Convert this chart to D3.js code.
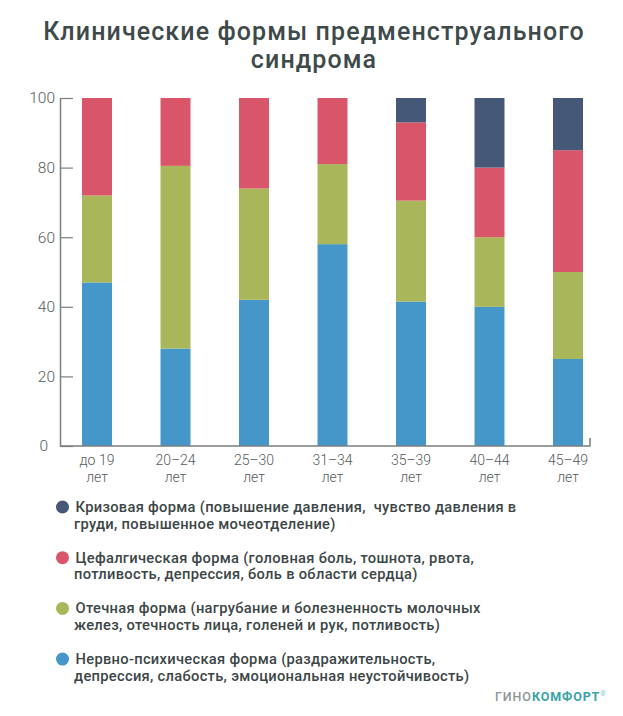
<!DOCTYPE html>
<html>
<head>
<meta charset="utf-8">
<script src="https://cdn.jsdelivr.net/npm/d3@7"></script>
<style>
  html, body { margin: 0; padding: 0; background: #fff; }
  svg { display: block; }
</style>
</head>
<body>
<svg id="chart" width="623" height="716"></svg>
<script>
// ---------- data ----------
const title = ["Клинические формы предменструального", "синдрома"];
const categories = ["до 19", "20–24", "25–30", "31–34", "35–39", "40–44", "45–49"];
const categorySuffix = "лет";
const yTicks = [0, 20, 40, 60, 80, 100];

const nervous   = [47, 28, 42, 58, 41.5, 40, 25];   // Нервно-психическая
const edema     = [25, 52.5, 32, 23, 29, 20, 25];   // Отечная
const cephalgic = [28, 19.5, 26, 19, 22.5, 20, 35]; // Цефалгическая
const crisis    = [0, 0, 0, 0, 7, 20, 15];          // Кризовая

const seriesKeys = ["nervous", "edema", "cephalgic", "crisis"];
const colors = { nervous: "#4597c9", edema: "#a9b659", cephalgic: "#d9566a", crisis: "#465878" };

const legendKeys = ["crisis", "cephalgic", "edema", "nervous"];
const legendLabels = [
  ["Кризовая форма (повышение давления,  чувство давления в", "груди, повышенное мочеотделение)"],
  ["Цефалгическая форма (головная боль, тошнота, рвота,", "потливость, депрессия, боль в области сердца)"],
  ["Отечная форма (нагрубание и болезненность молочных", "желез, отечность лица, голеней и рук, потливость)"],
  ["Нервно-психическая форма (раздражительность,", "депрессия, слабость, эмоциональная неустойчивость)"]
];

// ---------- build ----------
const table = categories.map((c, i) => ({
  cat: c, nervous: nervous[i], edema: edema[i], cephalgic: cephalgic[i], crisis: crisis[i]
}));
const stacked = d3.stack().keys(seriesKeys)(table);

const svg = d3.select("#chart");
const axisColor = "#7a7f80";
const textColor = "#555b5b";

const x = d3.scaleBand().domain(categories).range([57.75, 607.25]).paddingInner(0.618).paddingOuter(0.309);
const y = d3.scaleLinear().domain([0, 100]).range([446, 98]);

// title
svg.append("g").selectAll("text").data(title).join("text")
  .attr("x", 314).attr("y", (d, i) => 40 + i * 28)
  .attr("text-anchor", "middle")
  .attr("font-family", "Roboto, 'Noto Sans', sans-serif")
  .attr("font-weight", 500)
  .attr("font-size", 25)
  .attr("letter-spacing", 1.1)
  .attr("fill", "#3e4a4a")
  .text(d => d);

// bars
svg.append("g").selectAll("g").data(stacked).join("g")
  .attr("fill", d => colors[d.key])
  .selectAll("rect").data(d => d).join("rect")
  .attr("x", d => x(d.data.cat))
  .attr("width", x.bandwidth())
  .attr("y", d => y(d[1]))
  .attr("height", d => y(d[0]) - y(d[1]));

// y axis
const yAxis = svg.append("g").attr("transform", "translate(60,0)")
  .call(d3.axisLeft(y).tickValues(yTicks).tickSize(-13).tickSizeOuter(0).tickPadding(5));
yAxis.select(".domain").attr("stroke", axisColor).attr("stroke-width", 1.5);
yAxis.selectAll(".tick line").attr("stroke", axisColor).attr("stroke-width", 1.2);
yAxis.selectAll(".tick text")
  .attr("font-family", "Roboto, sans-serif").attr("font-weight", 300)
  .attr("font-size", 15.5).attr("fill", textColor)
  .attr("dx", d => d === 0 ? -7 : 0);

// x axis
const xAxisG = svg.append("g").attr("transform", "translate(0,446)");
xAxisG.append("path")
  .attr("d", `M60,0H590V-8`)
  .attr("fill", "none").attr("stroke", axisColor).attr("stroke-width", 1.5);
const xAxis = svg.append("g").attr("transform", "translate(0,446)")
  .call(d3.axisBottom(x).tickSize(0).tickPadding(0));
xAxis.select(".domain").remove();
xAxis.selectAll(".tick text").each(function(d) {
  const t = d3.select(this);
  t.text(null).attr("y", 0).attr("dy", null)
    .attr("font-family", "Roboto, sans-serif").attr("font-weight", 300)
    .attr("font-size", 14).attr("fill", textColor);
  t.append("tspan").attr("x", 0).attr("y", 18.5).text(d);
  t.append("tspan").attr("x", 0).attr("y", 35.5).text(categorySuffix);
});

// legend
const leg = svg.append("g").selectAll("g").data(legendKeys).join("g")
  .attr("transform", (d, i) => `translate(0,${507 + i * 50.7})`);
leg.append("circle").attr("cx", 62.5).attr("cy", 0).attr("r", 6.5).attr("fill", d => colors[d]);
leg.append("text")
  .attr("font-family", "Roboto, sans-serif").attr("font-weight", 500)
  .attr("font-size", 14.7).attr("fill", "#3c4646")
  .attr("letter-spacing", 0.3)
  .style("white-space", "pre")
  .selectAll("tspan").data((d, i) => legendLabels[i]).join("tspan")
  .attr("x", (d, j) => j === 0 ? 75.5 : 74)
  .attr("y", (d, j) => 5 + j * 16.5)
  .text(d => d);

// logo
const logo = svg.append("text").attr("x", 495).attr("y", 701)
  .attr("font-family", "Roboto, sans-serif").attr("font-size", 12.5)
  .attr("letter-spacing", 0.9);
logo.append("tspan").attr("fill", "#8c9595").attr("font-weight", 500).text("ГИНО");
logo.append("tspan").attr("fill", "#3aa3a6").attr("font-weight", 700).text("КОМФОРТ");
logo.append("tspan").attr("fill", "#8fc9c9").attr("font-size", 7).attr("dy", -5).text("®");
</script>
</body>
</html>
